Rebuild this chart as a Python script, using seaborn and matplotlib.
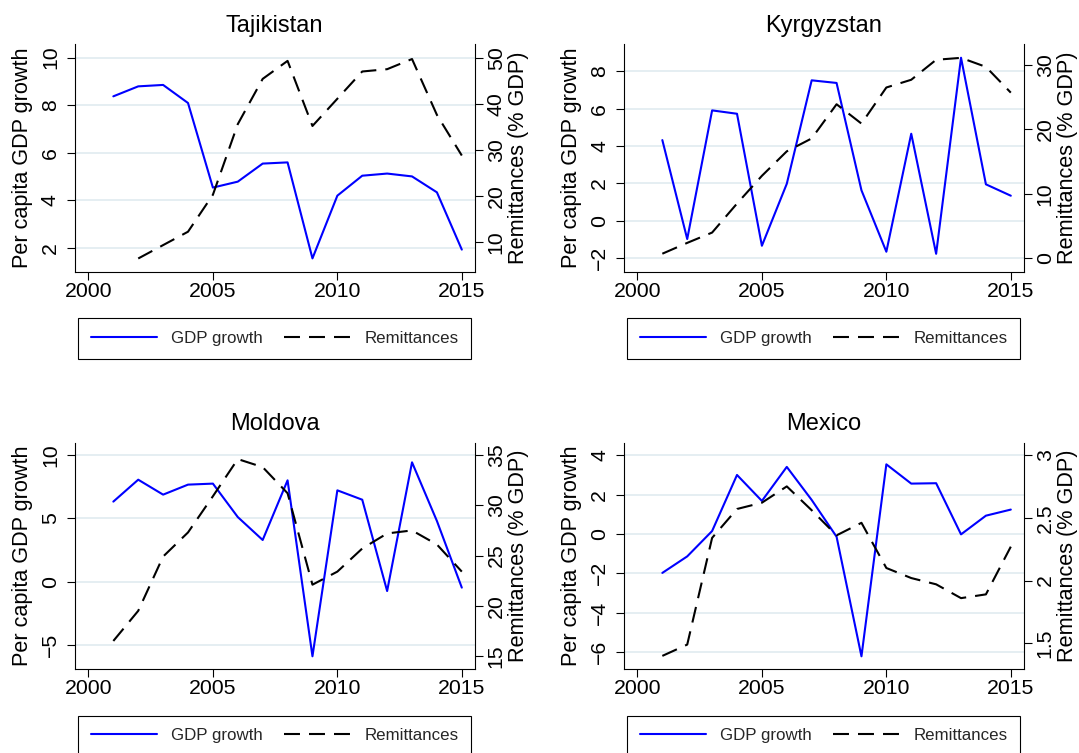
import numpy as np
import pandas as pd
import matplotlib
matplotlib.use("Agg")
import matplotlib.pyplot as plt
from matplotlib.ticker import FixedLocator, FixedFormatter
import seaborn as sns

# ---------------- data ----------------
years = list(range(2001, 2016))
countries = ["Tajikistan", "Kyrgyzstan", "Moldova", "Mexico"]

taj_gdp = [8.37, 8.79, 8.85, 8.09, 4.53, 4.78, 5.54, 5.59, 1.55, 4.19, 5.03, 5.12, 5.00, 4.33, 1.92]
taj_rem = [np.nan, 6.5, 9.4, 12.3, 20.3, 35.6, 45.4, 49.3, 35.2, 41.1, 47.0, 47.5, 49.7, 37.6, 28.8]
kgz_gdp = [4.32, -0.98, 5.91, 5.73, -1.34, 1.98, 7.52, 7.38, 1.63, -1.66, 4.66, -1.77, 8.73, 1.95, 1.34]
kgz_rem = [0.72, 2.4, 4.0, 8.5, 12.8, 16.6, 18.6, 23.9, 20.9, 26.5, 27.7, 30.8, 31.1, 29.7, 25.7]
mda_gdp = [6.32, 8.05, 6.87, 7.66, 7.74, 5.10, 3.29, 8.00, -5.89, 7.21, 6.47, -0.74, 9.42, 4.79, -0.47]
mda_rem = [16.5, 19.5, 24.9, 27.3, 30.9, 34.6, 33.8, 31.2, 22.1, 23.4, 25.7, 27.2, 27.5, 26.1, 23.4]
mex_gdp = [-1.98, -1.14, 0.15, 3.00, 1.68, 3.41, 1.73, -0.14, -6.22, 3.54, 2.56, 2.58, -0.02, 0.93, 1.24]
mex_rem = [1.40, 1.49, 2.34, 2.57, 2.62, 2.75, 2.56, 2.36, 2.46, 2.10, 2.02, 1.97, 1.86, 1.89, 2.27]

gdp_series = [taj_gdp, kgz_gdp, mda_gdp, mex_gdp]
rem_series = [taj_rem, kgz_rem, mda_rem, mex_rem]

x_ticks = [2000, 2005, 2010, 2015]
left_ticks = [[2, 4, 6, 8, 10], [-2, 0, 2, 4, 6, 8], [-5, 0, 5, 10], [-6, -4, -2, 0, 2, 4]]
right_ticks = [[10, 20, 30, 40, 50], [0, 10, 20, 30], [15, 20, 25, 30, 35], [1.5, 2, 2.5, 3]]
right_tick_labels = [["10", "20", "30", "40", "50"], ["0", "10", "20", "30"],
                     ["15", "20", "25", "30", "35"], ["1.5", "2", "2.5", "3"]]

left_label = "Per capita GDP growth"
right_label = "Remittances (% GDP)"
legend_labels = ["GDP growth", "Remittances"]

# ---------------- layout / style ----------------
sns.set_theme(style="white")
plt.rcParams["font.family"] = ["Liberation Sans", "DejaVu Sans"]
plt.rcParams["lines.scale_dashes"] = False
plt.rcParams["axes.unicode_minus"] = True

W, H = 1079, 753
fig = plt.figure(figsize=(W / 100, H / 100), dpi=100)

ax_w = 399.5 / W
positions = [
    [75 / W, 1 - 271.7 / H, ax_w, 227.4 / H],
    [624 / W, 1 - 271.7 / H, ax_w, 227.4 / H],
    [75 / W, 1 - 668.7 / H, ax_w, 226.0 / H],
    [624 / W, 1 - 668.7 / H, ax_w, 226.0 / H],
]
left_lims = [(0.99, 10.56), (-2.73, 9.45), (-6.87, 10.97), (-6.85, 4.64)]
right_lims = [(3.64, 52.89), (-2.07, 33.2), (13.74, 36.23), (1.298, 3.098)]
xlim = (1999.46, 2015.51)

grid_color = "#e3edf1"
tick_fs = 15.3
label_fs = 15.6
title_fs = 17
legend_fs = 12.2
lw = 1.5
dash = (0, (11.5, 6.5))

for i, name in enumerate(countries):
    df = pd.DataFrame({"year": years, "gdp": gdp_series[i], "rem": rem_series[i]})
    ax = fig.add_axes(positions[i])
    ax2 = ax.twinx()

    sns.lineplot(data=df, x="year", y="gdp", ax=ax, color="#0000ff", linewidth=lw, zorder=3)
    sns.lineplot(data=df.dropna(), x="year", y="rem", ax=ax2, color="black", linewidth=lw,
                 linestyle=dash, zorder=3)
    l1 = ax.lines[-1]
    l2 = ax2.lines[-1]

    ax.set_xlim(*xlim)
    ax.set_ylim(*left_lims[i])
    ax2.set_ylim(*right_lims[i])

    ax.xaxis.set_major_locator(FixedLocator(x_ticks))
    ax.yaxis.set_major_locator(FixedLocator(left_ticks[i]))
    ax2.yaxis.set_major_locator(FixedLocator(right_ticks[i]))
    ax2.yaxis.set_major_formatter(FixedFormatter(right_tick_labels[i]))

    ax.set_axisbelow(True)
    ax.grid(axis="y", color=grid_color, linewidth=1.3)
    ax.grid(axis="x", visible=False)
    ax2.grid(False)

    for a in (ax, ax2):
        a.spines["top"].set_visible(False)
        for s in a.spines.values():
            s.set_color("black")
            s.set_linewidth(0.8)
    ax.spines["right"].set_visible(False)
    ax2.spines["left"].set_visible(False)
    ax2.spines["bottom"].set_visible(False)

    ax.tick_params(axis="x", direction="out", length=5.8, width=0.8, pad=1.5,
                   labelsize=tick_fs, bottom=True, colors="black")
    ax.tick_params(axis="y", direction="out", length=5.8, width=0.8, pad=5,
                   labelsize=tick_fs, left=True, labelrotation=90, colors="black")
    ax2.tick_params(axis="y", direction="out", length=5.8, width=0.8, pad=3,
                    labelsize=tick_fs, right=True, labelrotation=90, colors="black")
    for t in ax.get_yticklabels():
        t.set_va("center")
    for t in ax2.get_yticklabels():
        t.set_va("center")

    ax.set_xlabel("")
    ax.set_ylabel(left_label, fontsize=label_fs, color="black")
    ax2.set_ylabel(right_label, fontsize=label_fs, color="black")
    ax.yaxis.set_label_coords(-0.1055, 0.5)
    ax2.yaxis.set_label_coords(1.085, 0.5)

    ax.set_title(name, fontsize=title_fs, pad=9, color="black")

    leg_y = -0.205 if i < 2 else -0.208
    leg = ax.legend(handles=[l1, l2], labels=legend_labels, loc="upper center",
                    bbox_to_anchor=(0.5, leg_y), ncol=2, frameon=True, fancybox=False,
                    edgecolor="black", fontsize=legend_fs, handlelength=3.9,
                    handletextpad=0.85, columnspacing=1.25, borderpad=0.75,
                    borderaxespad=0, framealpha=1)
    leg.get_frame().set_linewidth(0.8)

fig.savefig("out.png", dpi=100)
